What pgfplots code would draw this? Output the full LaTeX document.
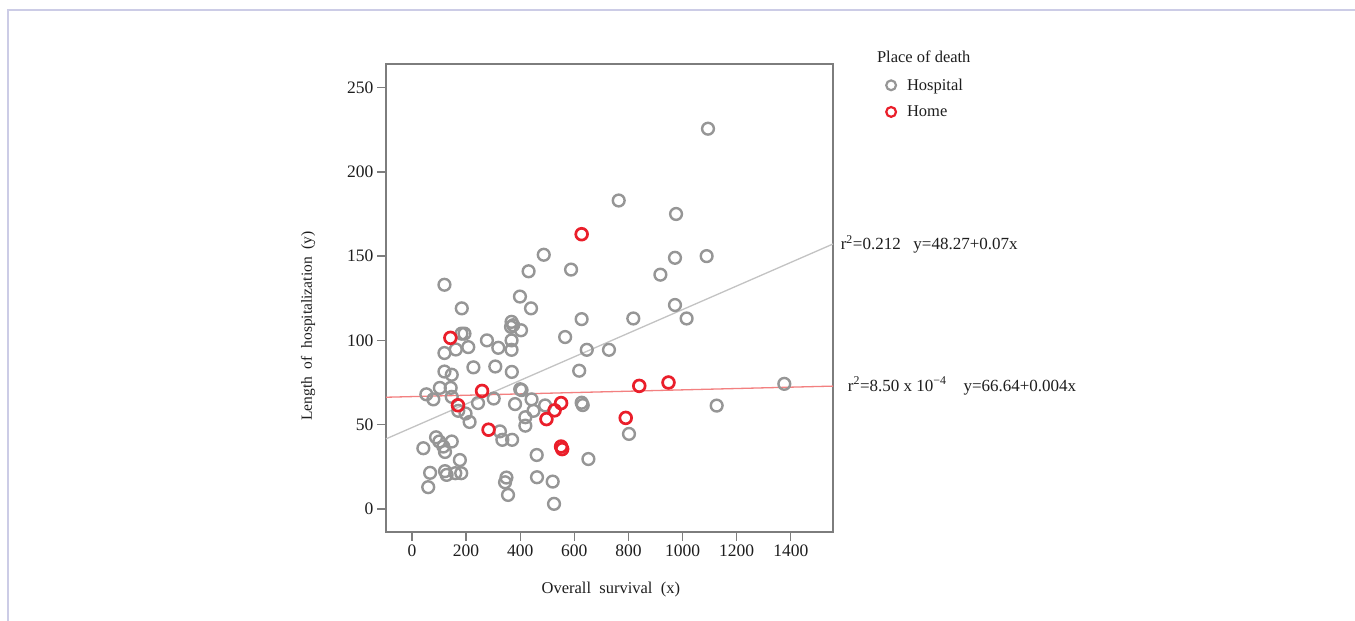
\documentclass[border=0pt]{standalone}
\usepackage{fontspec}
\setmainfont{Liberation Serif}
\usepackage{pgfplots}
\usepackage{pgfplotstable}
\pgfplotsset{compat=1.18}

\definecolor{hosp}{RGB}{150,150,150}
\definecolor{home}{RGB}{234,30,42}
\definecolor{hospfit}{RGB}{195,195,195}
\definecolor{homefit}{RGB}{243,128,128}
\definecolor{pageframe}{RGB}{204,204,230}
\definecolor{axisgray}{RGB}{125,125,125}
\definecolor{txt}{RGB}{30,30,30}

% Overall survival (days) vs length of hospitalization (days)
\pgfplotstableread{
x y
1094 225.6
764 183
976 175
487 150.8
972 149
1089 150
918 139
431 141
588 142
120 133
399 126
440 119
184 119
972 121
818 113
1015 113
627 112.6
368 111
374 109
366 108
403 106
183 104
194 104
566 102
277 100
368 100
162 94.6
208 96
319 95.6
368 94.4
646 94.4
728 94.4
120 92.5
308 84.5
227 84
618 82
369 81.3
120 81.5
147 79.6
53 68
103 71.8
143 71.8
79 65
147 66.5
302 65.5
400 71
405 70.5
442 65
244 62.8
381 62.2
492 61.4
627 63
631 61.6
1126 61.3
1376 74.2
171 58.2
198 56.6
213 51.6
449 58.2
419 54.4
419 49.4
802 44.5
325 46
334 41
370 41
42 36
89 42.5
101 40
116 37
122 33.8
147 40
177 29
652 29.6
461 32
67 21.4
122 22.4
128 20.2
160 21.2
182 21.2
60 12.9
349 18.6
344 15.8
355 8.3
462 18.8
520 16.2
525 3
}\hospital

\pgfplotstableread{
x y
627 163
142 101.5
259 70
170 61.5
283 47
840 73
948 75
790 54
551 62.8
527 58.5
497 53.3
551 37
555 35.5
}\home

\begin{document}
\begin{tikzpicture}[x=1pt,y=1pt]
\useasboundingbox[fill=white] (0,0) rectangle (1355,621);
\draw[pageframe, line width=1.2pt] (8,0) -- (8,611) -- (1355,611);
\begin{axis}[
  at={(386pt,89pt)}, anchor=south west,
  scale only axis, width=447pt, height=468pt,
  xmin=-96, xmax=1556, ymin=-13.7, ymax=264,
  xtick={0,200,...,1400}, ytick={0,50,...,250},
  tick pos=left, tick align=outside, major tick length=9pt,
  axis line style={axisgray, line width=1.8pt},
  tick style={axisgray, line width=1.4pt},
  ticklabel style={font=\fontsize{17.5}{20}\selectfont, text=txt},
  /pgf/number format/assume math mode=true,
  /pgf/number format/1000 sep={},
  label style={text=txt},
  xlabel={Overall\ \ survival\ \ (x)},
  ylabel={Length\ \ of\ \ hospitalization\ \ (y)},
  xlabel style={font=\fontsize{16.5}{19}\selectfont,
    at={(axis description cs:0.503,-0.122)}, anchor=center},
  ylabel style={font=\fontsize{15.5}{18}\selectfont,
    at={(axis description cs:-0.1745,0.44)}, anchor=center},
  clip=false,
  legend style={draw=none, fill=none, at={(axis description cs:1.1186,0.973)},
    anchor=north west, font=\fontsize{16.5}{19}\selectfont, text=txt,
    row sep=10pt, inner sep=0pt,
    /tikz/every odd column/.append style={column sep=9pt}},
  legend cell align=left,
  legend image code/.code={%
    \draw[#1, mark size=4.9pt, line width=2.2pt] plot coordinates {(0pt,0pt)};},
]
\addplot[only marks, mark=o, mark size=5.9pt, line width=2.4pt, draw=hosp]
  table[x=x, y=y] {\hospital};
\addlegendentry{Hospital}
\addplot[only marks, mark=o, mark size=5.9pt, line width=2.7pt, draw=home]
  table[x=x, y=y] {\home};
\addlegendentry{Home}

% fitted lines: y = 48.27 + 0.07x and y = 66.64 + 0.004x
\addplot[hospfit, line width=1.3pt, forget plot] coordinates {(-96,41.55) (1556,157.19)};
\addplot[homefit, line width=1.3pt, forget plot] coordinates {(-96,66.26) (1556,72.86)};

\node[anchor=west, font=\fontsize{17}{20}\selectfont, text=txt, inner sep=0pt]
  at (axis description cs:1.017,0.614)
  {r\textsuperscript{2}=0.212\ \ \ y=48.27+0.07x};
\node[anchor=west, font=\fontsize{17}{20}\selectfont, text=txt, inner sep=0pt]
  at (axis description cs:1.033,0.312)
  {r\textsuperscript{2}=8.50 x 10\textsuperscript{\textminus4}\ \ \ \ y=66.64+0.004x};
\node[anchor=west, font=\fontsize{16.5}{19}\selectfont, text=txt, inner sep=0pt]
  at (axis description cs:1.098,1.016) {Place\ of\ death};
\end{axis}
\end{tikzpicture}
\end{document}
